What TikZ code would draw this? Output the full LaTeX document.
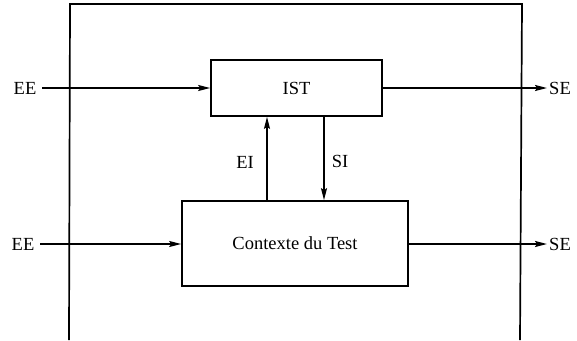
\documentclass[tikz,border=0pt]{standalone}
\usepackage{fontspec}
\setmainfont{Liberation Serif}
\usetikzlibrary{arrows.meta}
\begin{document}
\begin{tikzpicture}[x=1pt,y=-1pt,
  line width=1.7pt,
  box/.style={draw,rectangle,inner sep=0pt},
  lbl/.style={font=\fontsize{18.5}{21}\selectfont,inner sep=0pt},
  flow/.style={-{Stealth[length=12pt,width=6pt,inset=2pt]}}]
  \useasboundingbox (0,0) rectangle (577,340);
  % open frame round the system
  \draw (69,340) -- (70,4) -- (522,4) -- (520,340);
  % the two blocks
  \node[box,minimum width=171pt,minimum height=56pt] (ist) at (296.5,88) {};
  \node[lbl] at (ist.center) {IST};
  \node[box,minimum width=226pt,minimum height=85pt] (ctx) at (295,243.5) {};
  \node[lbl] at (ctx.center) {Contexte du Test};
  % external inputs and outputs
  \node[lbl] (ee1) at (25,88) {EE};
  \node[lbl] (ee2) at (23,244) {EE};
  \node[lbl] (se1) at (560,88) {SE};
  \node[lbl] (se2) at (560,244) {SE};
  \coordinate (a1) at (42,88);
  \coordinate (a2) at (40,244);
  \coordinate (b1) at (547,88);
  \coordinate (b2) at (547,244);
  \draw[flow] (a1) -- (ist.west);
  \draw[flow] (a2) -- (ctx.west |- a2);
  \draw[flow] (ist.east) -- (b1);
  \draw[flow] (ctx.east |- b2) -- (b2);
  % internal exchanges
  \draw[flow] (ctx.north -| 267,0) -- (ist.south -| 267,0);
  \draw[flow] (ist.south -| 324,0) -- (ctx.north -| 324,0);
  \node[lbl] (ei) at (245,162) {EI};
  \node[lbl] (si) at (340,161) {SI};
\end{tikzpicture}
\end{document}
